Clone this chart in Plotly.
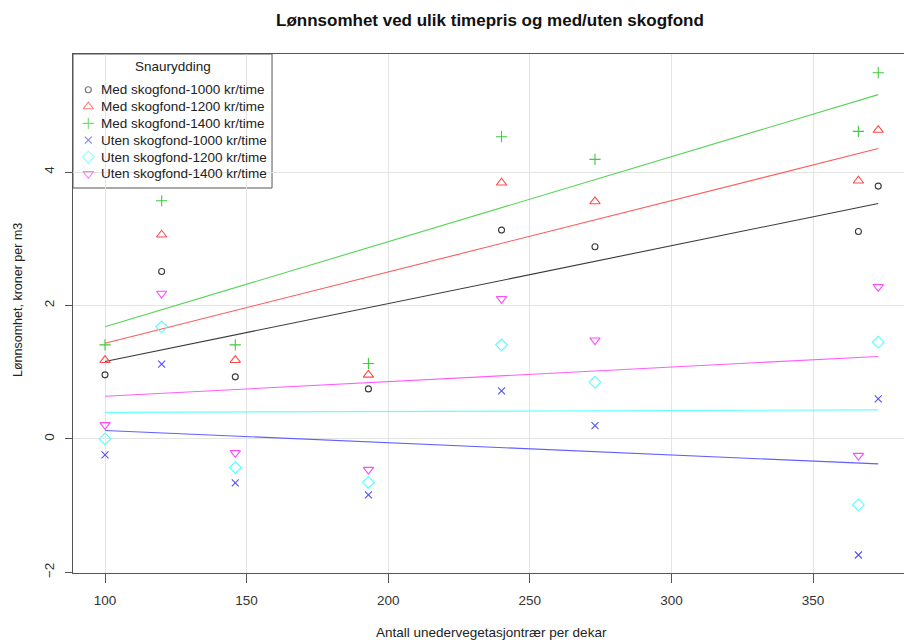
import numpy as np
import plotly.graph_objects as go

# Trees per dekar (x) and profitability in NOK per m3 for each scenario
density = [100, 120, 146, 193, 240, 273, 366, 373]

med_1000 = [0.96, 2.51, 0.93, 0.75, 3.13, 2.88, 3.11, 3.79]
med_1200 = [1.18, 3.06, 1.18, 0.96, 3.84, 3.56, 3.87, 4.63]
med_1400 = [1.41, 3.57, 1.41, 1.13, 4.53, 4.19, 4.61, 5.49]
uten_1000 = [-0.24, 1.12, -0.66, -0.84, 0.72, 0.20, -1.74, 0.60]
uten_1200 = [0.00, 1.68, -0.43, -0.65, 1.41, 0.85, -0.99, 1.45]
uten_1400 = [0.21, 2.18, -0.21, -0.46, 2.10, 1.48, -0.25, 2.28]

series_names = [
    "Med skogfond-1000 kr/time",
    "Med skogfond-1200 kr/time",
    "Med skogfond-1400 kr/time",
    "Uten skogfond-1000 kr/time",
    "Uten skogfond-1200 kr/time",
    "Uten skogfond-1400 kr/time",
]
series_values = [med_1000, med_1200, med_1400, uten_1000, uten_1200, uten_1400]

x_ticks = [100, 150, 200, 250, 300, 350]
y_ticks = [-2, 0, 2, 4]

colors = ["#3a3a3a", "#ff4a4a", "#3ccc3c", "#5050ff", "#55ffff", "#ff4aff"]
line_colors = ["#3a3a3a", "#ff5a5a", "#55d455", "#6060ff", "#66ffff", "#ff5cff"]
symbols = ["circle-open", "triangle-up-open", "cross-thin-open",
           "x-thin-open", "diamond-open", "triangle-down-open"]
sizes = [6, 9, 8, 7, 9, 9]

FONT = "Liberation Sans, Arial, sans-serif"
TXT = 13.5

fig = go.Figure()

xs = np.array(density, dtype=float)
for name, vals, col, lcol, sym, sz in zip(series_names, series_values, colors,
                                          line_colors, symbols, sizes):
    ys = np.array(vals, dtype=float)
    # least-squares trend line over the observed density range
    slope, intercept = np.polyfit(xs, ys, 1)
    xl = np.array([xs.min(), xs.max()])
    fig.add_trace(go.Scatter(
        x=xl, y=intercept + slope * xl, mode="lines",
        line=dict(color=lcol, width=1.1), hoverinfo="skip", showlegend=False))
    fig.add_trace(go.Scatter(
        x=density, y=vals, mode="markers", name=name, showlegend=False,
        marker=dict(symbol=sym, size=sz, color=col,
                    line=dict(color=col, width=1.1))))

# Legend box (top-left corner of the plot area); symbols sit on an overlay axis in 0..1 units
leg_x0, leg_x1 = 0.0, 0.2395
leg_y0, leg_y1 = 0.7418, 1.0
fig.add_shape(type="rect", xref="paper", yref="paper",
              x0=leg_x0, x1=leg_x1, y0=leg_y0, y1=leg_y1,
              line=dict(color="#555555", width=1), fillcolor="white", layer="between")

entry_y = [0.9311 - i * 0.0324 for i in range(len(series_names))]
fig.add_trace(go.Scatter(
    x=[0.0184] * len(series_names), y=entry_y, mode="markers",
    xaxis="x2", yaxis="y2", hoverinfo="skip", showlegend=False,
    marker=dict(symbol=symbols, size=sizes, color=colors,
                line=dict(color=colors, width=1.1))))

annotations = [
    dict(text="Snaurydding", xref="paper", yref="paper", x=0.1203, y=0.9755,
         xanchor="center", yanchor="middle", showarrow=False,
         font=dict(family=FONT, size=TXT, color="#222222")),
]
for name, yy in zip(series_names, entry_y):
    annotations.append(dict(
        text=name, xref="paper", yref="paper", x=0.0316, y=yy,
        xanchor="left", yanchor="middle", showarrow=False,
        font=dict(family=FONT, size=TXT, color="#222222")))

# Title and axis titles
annotations += [
    dict(text="<b>Lønnsomhet ved ulik timepris og med/uten skogfond</b>",
         xref="paper", yref="paper", x=0.502, y=1.0655, xanchor="center",
         yanchor="middle", showarrow=False,
         font=dict(family=FONT, size=17, color="#111111")),
    dict(text="Antall unedervegetasjontrær per dekar", xref="paper", yref="paper",
         x=0.504, y=-0.1137, xanchor="center", yanchor="middle", showarrow=False,
         font=dict(family=FONT, size=TXT, color="#222222")),
    dict(text="Lønnsomhet, kroner per m3", xref="paper", yref="paper",
         x=-0.0662, y=0.526, xanchor="center", yanchor="middle", showarrow=False,
         textangle=-90, font=dict(family=FONT, size=12.5, color="#222222")),
]

fig.update_layout(
    width=904, height=640,
    margin=dict(l=73, r=0, t=54, b=67),
    paper_bgcolor="white", plot_bgcolor="white",
    showlegend=False,
    annotations=annotations,
    font=dict(family=FONT, size=TXT, color="#222222"),
    xaxis=dict(
        range=[88.7, 382.1], tickmode="array", tickvals=x_ticks,
        showgrid=True, gridcolor="#e4e4e4", gridwidth=1, zeroline=False,
        showline=True, linecolor="#555555", linewidth=1, mirror=True,
        ticks="outside", ticklen=9, tickcolor="#555555", tickwidth=1,
        ticklabelstandoff=6,
        tickfont=dict(family=FONT, size=TXT, color="#333333"),
    ),
    yaxis=dict(
        range=[-2.01, 5.77], tickmode="array", tickvals=y_ticks,
        showgrid=True, gridcolor="#e4e4e4", gridwidth=1, zeroline=False,
        showline=True, linecolor="#555555", linewidth=1, mirror=False,
        ticks="outside", ticklen=7, tickcolor="#555555", tickwidth=1,
        tickangle=-90, ticklabelstandoff=6,
        tickfont=dict(family=FONT, size=TXT, color="#333333"),
    ),
    xaxis2=dict(overlaying="x", range=[0, 1], visible=False),
    yaxis2=dict(overlaying="y", range=[0, 1], visible=False),
)

fig.write_html("out.html")
